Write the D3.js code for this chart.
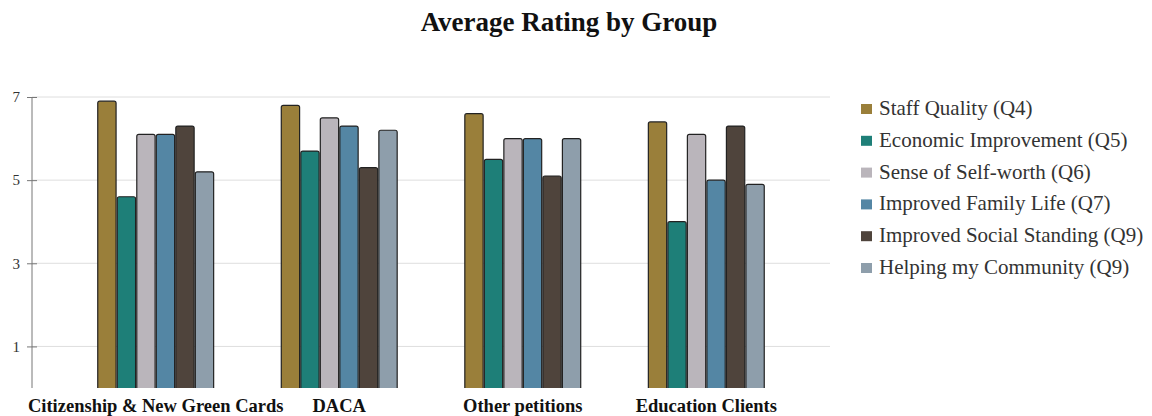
<!DOCTYPE html>
<html>
<head>
<meta charset="utf-8">
<script src="https://cdn.jsdelivr.net/npm/d3@7"></script>
<style>
  body { margin: 0; background: #fff; }
  text { font-family: "Liberation Serif", "DejaVu Serif", serif; }
</style>
</head>
<body>
<div id="chart"></div>
<script>
var groups = ["Citizenship & New Green Cards", "DACA", "Other petitions", "Education Clients"];
var series = ["Staff Quality (Q4)", "Economic Improvement (Q5)", "Sense of Self-worth (Q6)",
              "Improved Family Life (Q7)", "Improved Social Standing (Q9)", "Helping my Community (Q9)"];
var colors = ["#9a7f3a", "#1e7f78", "#bab5bb", "#5486a4", "#4f443c", "#8e9eab"];
// one row per group, one value per series
var values = [
  [6.9, 4.6, 6.1, 6.1, 6.3, 5.2],
  [6.8, 5.7, 6.5, 6.3, 5.3, 6.2],
  [6.6, 5.5, 6.0, 6.0, 5.1, 6.0],
  [6.4, 4.0, 6.1, 5.0, 6.3, 4.9]
];
var yTicks = [1, 3, 5, 7];

var W = 1152, H = 416;
var margin = {top: 97, right: 322, bottom: 28, left: 32},
    width = W - margin.left - margin.right,
    height = H - margin.top - margin.bottom;

var svg = d3.select("#chart")
  .append("svg")
    .attr("width", W)
    .attr("height", H);

svg.append("text")
  .attr("x", 569)
  .attr("y", 31)
  .attr("text-anchor", "middle")
  .style("font-size", "27px")
  .style("font-weight", "bold")
  .style("fill", "#111")
  .text("Average Rating by Group");

var g = svg.append("g")
  .attr("transform", "translate(" + margin.left + "," + margin.top + ")");

var x0 = d3.scaleBand()
  .domain(groups)
  .range([0, width])
  .paddingInner(0.362)
  .paddingOuter(0.355);

var x1 = d3.scaleBand()
  .domain(series)
  .range([0, x0.bandwidth()]);

var y = d3.scaleLinear()
  .domain([0, 7])
  .range([height, 0]);

// gridlines
g.append("g")
  .selectAll("line")
  .data(yTicks)
  .enter()
  .append("line")
    .attr("x1", 0)
    .attr("x2", width)
    .attr("y1", function (d) { return y(d); })
    .attr("y2", function (d) { return y(d); })
    .style("stroke", "#dedede")
    .style("stroke-width", 1);

// y axis
var yAxis = g.append("g")
  .call(d3.axisLeft(y).tickValues(yTicks).tickSize(5).tickFormat(d3.format("d")));
yAxis.select(".domain").attr("d", "M0," + y(7) + "V" + height).style("stroke", "#777");
yAxis.selectAll(".tick line").attr("x2", -5).attr("x1", 5).style("stroke", "#777");
yAxis.selectAll(".tick text")
  .attr("x", -12)
  .style("font-size", "15px")
  .style("font-family", "Liberation Serif")
  .style("fill", "#333");

// bars
var groupSel = g.append("g")
  .selectAll("g")
  .data(values)
  .enter()
  .append("g")
    .attr("transform", function (d, i) { return "translate(" + x0(groups[i]) + ",0)"; });

groupSel.selectAll("path")
  .data(function (d) { return d.map(function (v, j) { return {s: series[j], v: v, c: colors[j]}; }); })
  .enter()
  .append("path")
    .attr("d", function (d) {
      var bx = x1(d.s) + 0.6, bw = x1.bandwidth() - 1.2, by = y(d.v), r = 2;
      return "M" + bx + "," + height + "V" + (by + r) + "Q" + bx + "," + by + " " + (bx + r) + "," + by +
             "H" + (bx + bw - r) + "Q" + (bx + bw) + "," + by + " " + (bx + bw) + "," + (by + r) +
             "V" + height;
    })
    .style("fill", function (d) { return d.c; })
    .style("stroke", "#222")
    .style("stroke-width", 1.2);

// category labels
g.append("g")
  .selectAll("text")
  .data(groups)
  .enter()
  .append("text")
    .attr("x", function (d) { return x0(d) + x0.bandwidth() / 2; })
    .attr("y", height + 24)
    .attr("text-anchor", "middle")
    .style("font-size", "18.5px")
    .style("font-weight", "bold")
    .style("fill", "#111")
    .text(function (d) { return d; });

// legend
var legend = svg.append("g")
  .attr("transform", "translate(861,100)");

var row = legend.selectAll("g")
  .data(series)
  .enter()
  .append("g")
    .attr("transform", function (d, i) { return "translate(0," + (i * 31.8) + ")"; });

row.append("rect")
  .attr("width", 11)
  .attr("height", 10)
  .attr("y", 4)
  .style("fill", function (d, i) { return colors[i]; });

row.append("text")
  .attr("x", 18)
  .attr("y", 15)
  .style("font-size", "21px")
  .style("fill", "#333")
  .text(function (d) { return d; });
</script>
</body>
</html>
